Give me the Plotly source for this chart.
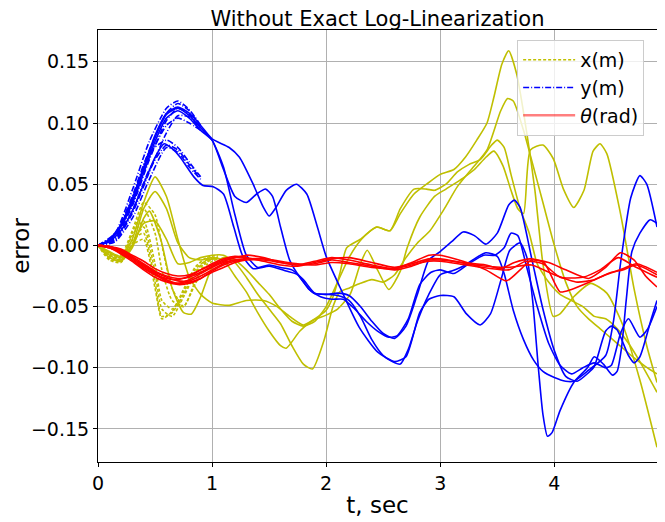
import plotly.graph_objects as go

# ---- data (t in sec, error) ----
x_run1 = [(0, 0), (0.1, -0.006), (0.2, -0.010), (0.3, 0.005), (0.4, 0.035), (0.5, 0.056), (0.6, 0.040),
          (0.7, 0.005), (0.8, -0.026), (0.9, -0.040), (1.0, -0.047), (1.15, -0.049), (1.3, -0.045),
          (1.45, -0.045), (1.57, -0.050), (1.68, -0.058), (1.8, -0.065), (1.9, -0.060), (2.0, -0.053),
          (2.06, -0.042), (2.12, -0.023), (2.18, -0.002), (2.3, 0.005), (2.44, 0.015), (2.56, 0.012),
          (2.65, 0.026), (2.77, 0.042), (2.88, 0.050), (3.0, 0.058), (3.12, 0.062), (3.22, 0.072),
          (3.32, 0.086), (3.41, 0.100), (3.47, 0.121), (3.54, 0.148), (3.6, 0.159), (3.67, 0.140),
          (3.76, 0.091), (3.83, 0.045), (3.9, -0.015), (3.99, -0.058), (4.05, -0.056), (4.17, -0.042),
          (4.32, -0.031), (4.46, -0.039), (4.6, -0.065), (4.75, -0.110), (4.9, -0.165)]
x_run2 = [(0, 0), (0.1, -0.008), (0.2, -0.012), (0.3, 0.000), (0.4, 0.030), (0.5, 0.044), (0.6, 0.030),
          (0.7, 0.002), (0.8, -0.010), (0.9, -0.012), (1.0, -0.010), (1.1, -0.012), (1.2, -0.025),
          (1.3, -0.038), (1.4, -0.055), (1.5, -0.070), (1.6, -0.082), (1.65, -0.084), (1.77, -0.070),
          (1.89, -0.061), (2.0, -0.057), (2.1, -0.052), (2.21, -0.040), (2.3, -0.015), (2.36, -0.004),
          (2.45, -0.020), (2.55, -0.036), (2.65, -0.021), (2.71, -0.002), (2.82, 0.023), (2.95, 0.040),
          (3.05, 0.046), (3.2, 0.055), (3.3, 0.062), (3.4, 0.072), (3.47, 0.077), (3.55, 0.065),
          (3.62, 0.045), (3.68, 0.030), (3.73, 0.026), (3.79, 0.078), (3.9, 0.082), (3.99, 0.071),
          (4.08, 0.046), (4.17, 0.031), (4.26, 0.045), (4.34, 0.077), (4.4, 0.083), (4.46, 0.075),
          (4.58, 0.026), (4.7, -0.036), (4.81, -0.082), (4.9, -0.112)]
x_run3 = [(0, 0), (0.1, -0.005), (0.2, -0.009), (0.3, 0.000), (0.4, 0.018), (0.5, 0.020), (0.6, 0.005),
          (0.7, -0.015), (0.8, -0.014), (0.9, -0.010), (1.0, -0.008), (1.1, -0.008), (1.2, -0.014),
          (1.3, -0.026), (1.4, -0.040), (1.5, -0.052), (1.6, -0.064), (1.7, -0.082), (1.8, -0.097),
          (1.88, -0.101), (1.98, -0.078), (2.06, -0.050), (2.12, -0.038), (2.2, -0.035), (2.3, -0.031),
          (2.4, -0.028), (2.5, -0.030), (2.6, -0.024), (2.7, -0.010), (2.8, 0.002), (2.91, 0.012),
          (3.03, 0.029), (3.15, 0.048), (3.29, 0.064), (3.41, 0.078), (3.53, 0.110), (3.59, 0.120),
          (3.64, 0.118), (3.73, 0.094), (3.8, 0.070), (3.9, 0.035), (4.0, 0.000), (4.1, -0.030),
          (4.2, -0.050), (4.3, -0.060), (4.4, -0.068), (4.5, -0.076), (4.6, -0.084), (4.7, -0.092),
          (4.8, -0.099), (4.9, -0.105)]
x_run4 = [(0, 0), (0.1, -0.010), (0.2, -0.013), (0.3, -0.002), (0.4, 0.022), (0.45, 0.028), (0.55, 0.005),
          (0.65, -0.035), (0.75, -0.055), (0.82, -0.056), (0.9, -0.042), (1.0, -0.018), (1.1, -0.010),
          (1.2, -0.012), (1.3, -0.020), (1.4, -0.030), (1.5, -0.040), (1.6, -0.052), (1.7, -0.062),
          (1.8, -0.066), (1.9, -0.062), (2.0, -0.050), (2.1, -0.030), (2.2, -0.010), (2.3, 0.004),
          (2.39, 0.012), (2.45, 0.015), (2.56, 0.012), (2.65, 0.030), (2.77, 0.046), (2.88, 0.046),
          (2.95, 0.045), (3.05, 0.050), (3.15, 0.060), (3.25, 0.066), (3.35, 0.070), (3.45, 0.082),
          (3.5, 0.086), (3.56, 0.080), (3.62, 0.058), (3.7, 0.030), (3.78, 0.010), (3.85, -0.015),
          (3.95, -0.030), (4.05, -0.040), (4.15, -0.045), (4.25, -0.050), (4.35, -0.058), (4.45, -0.060),
          (4.55, -0.068), (4.65, -0.080), (4.75, -0.095), (4.9, -0.120)]

y_run1 = [(0, 0), (0.1, 0.004), (0.2, 0.016), (0.3, 0.036), (0.4, 0.062), (0.5, 0.088), (0.6, 0.107),
          (0.7, 0.112), (0.8, 0.106), (0.9, 0.096), (1.0, 0.086), (1.1, 0.064), (1.2, 0.025), (1.3, -0.008),
          (1.4, -0.018), (1.5, -0.016), (1.6, -0.018), (1.7, -0.020), (1.8, -0.028), (1.9, -0.039),
          (2.0, -0.040), (2.1, -0.039), (2.2, -0.041), (2.3, -0.050), (2.4, -0.062), (2.5, -0.072),
          (2.6, -0.076), (2.7, -0.066), (2.8, -0.040), (2.9, -0.012), (3.0, -0.005), (3.1, 0.003),
          (3.2, 0.011), (3.3, 0.008), (3.4, 0.001), (3.5, 0.010), (3.6, 0.033), (3.65, 0.037), (3.7, 0.031),
          (3.8, -0.010), (3.9, -0.052), (4.0, -0.086), (4.1, -0.107), (4.2, -0.111), (4.3, -0.104),
          (4.35, -0.099), (4.45, -0.070), (4.5, -0.066), (4.55, -0.069), (4.65, -0.090), (4.7, -0.096),
          (4.75, -0.091), (4.85, -0.060), (4.9, -0.045)]
y_run2 = [(0, 0), (0.1, 0.005), (0.2, 0.017), (0.3, 0.038), (0.4, 0.064), (0.5, 0.090), (0.6, 0.108),
          (0.7, 0.113), (0.8, 0.108), (0.9, 0.098), (1.0, 0.087), (1.15, 0.080), (1.24, 0.072),
          (1.36, 0.050), (1.45, 0.031), (1.5, 0.024), (1.56, 0.031), (1.65, 0.045), (1.74, 0.050),
          (1.83, 0.042), (1.92, 0.016), (2.0, -0.009), (2.12, -0.034), (2.29, -0.067), (2.45, -0.087),
          (2.6, -0.095), (2.7, -0.091), (2.82, -0.055), (2.9, -0.044), (3.0, -0.041), (3.12, -0.042),
          (3.23, -0.056), (3.35, -0.065), (3.44, -0.056), (3.53, -0.029), (3.61, -0.004), (3.7, 0.002),
          (3.76, -0.010), (3.81, -0.045), (3.86, -0.100), (3.9, -0.138), (3.94, -0.156), (3.98, -0.153),
          (4.05, -0.135), (4.17, -0.112), (4.29, -0.100), (4.35, -0.091), (4.43, -0.097), (4.51, -0.106),
          (4.55, -0.103), (4.59, -0.083), (4.63, -0.045), (4.68, -0.005), (4.75, 0.010), (4.84, 0.021),
          (4.9, 0.018)]
y_run3 = [(0, 0), (0.1, 0.004), (0.2, 0.015), (0.3, 0.034), (0.4, 0.059), (0.5, 0.085), (0.6, 0.104),
          (0.7, 0.110), (0.8, 0.104), (0.9, 0.094), (1.0, 0.086), (1.1, 0.062), (1.2, 0.040), (1.3, 0.035),
          (1.39, 0.042), (1.47, 0.046), (1.53, 0.040), (1.6, 0.015), (1.68, -0.012), (1.77, -0.026),
          (1.89, -0.039), (2.0, -0.040), (2.1, -0.041), (2.2, -0.045), (2.3, -0.058), (2.4, -0.077),
          (2.5, -0.090), (2.58, -0.095), (2.65, -0.097), (2.72, -0.085), (2.8, -0.062), (2.9, -0.040),
          (3.0, -0.024), (3.1, -0.021), (3.2, -0.017), (3.3, -0.011), (3.4, -0.006), (3.5, -0.009),
          (3.56, -0.023), (3.64, -0.053), (3.73, -0.077), (3.82, -0.094), (3.9, -0.103), (4.0, -0.108),
          (4.1, -0.111), (4.17, -0.111), (4.3, -0.102), (4.45, -0.090), (4.52, -0.061), (4.58, -0.015),
          (4.67, 0.039), (4.75, 0.057), (4.81, 0.050), (4.9, 0.015)]
y_run4 = [(0, 0), (0.1, 0.003), (0.2, 0.012), (0.3, 0.028), (0.4, 0.050), (0.5, 0.072), (0.58, 0.083),
          (0.65, 0.079), (0.72, 0.072), (0.84, 0.056), (0.92, 0.049), (1.01, 0.048), (1.1, 0.042),
          (1.19, 0.015), (1.27, -0.009), (1.36, -0.019), (1.5, -0.017), (1.65, -0.021), (1.75, -0.024),
          (1.85, -0.036), (1.95, -0.042), (2.05, -0.044), (2.15, -0.044), (2.25, -0.052), (2.35, -0.062),
          (2.45, -0.070), (2.55, -0.075), (2.62, -0.074), (2.72, -0.060), (2.82, -0.032), (2.92, -0.022),
          (3.0, -0.020), (3.12, -0.023), (3.25, -0.015), (3.38, -0.008), (3.48, -0.008), (3.56, -0.002),
          (3.62, 0.010), (3.68, 0.008), (3.75, -0.015), (3.85, -0.050), (3.95, -0.080), (4.05, -0.098),
          (4.15, -0.105), (4.25, -0.100), (4.35, -0.096), (4.45, -0.100), (4.5, -0.098), (4.58, -0.072),
          (4.65, -0.060), (4.75, -0.075), (4.82, -0.068), (4.9, -0.050)]

th_run1 = [(0, 0), (0.1, -0.001), (0.2, -0.004), (0.3, -0.009), (0.4, -0.015), (0.5, -0.021), (0.6, -0.025),
           (0.7, -0.027), (0.8, -0.026), (0.9, -0.022), (1.0, -0.017), (1.1, -0.013), (1.2, -0.010),
           (1.3, -0.008), (1.45, -0.010), (1.6, -0.014), (1.75, -0.016), (1.9, -0.013), (2.05, -0.010),
           (2.2, -0.012), (2.4, -0.016), (2.6, -0.019), (2.75, -0.014), (2.9, -0.008), (3.0, -0.008),
           (3.2, -0.013), (3.4, -0.020), (3.58, -0.029), (3.7, -0.020), (3.8, -0.012), (3.95, -0.014),
           (4.1, -0.020), (4.3, -0.027), (4.45, -0.018), (4.58, -0.006), (4.7, -0.012), (4.8, -0.025),
           (4.9, -0.034)]
th_run2 = [(0, 0), (0.1, -0.001), (0.2, -0.005), (0.3, -0.010), (0.4, -0.017), (0.5, -0.023), (0.6, -0.028),
           (0.7, -0.031), (0.8, -0.030), (0.9, -0.027), (1.0, -0.022), (1.1, -0.018), (1.2, -0.014),
           (1.3, -0.012), (1.45, -0.012), (1.6, -0.014), (1.75, -0.016), (1.9, -0.015), (2.05, -0.012),
           (2.2, -0.014), (2.4, -0.017), (2.6, -0.020), (2.75, -0.017), (2.9, -0.012), (3.0, -0.012),
           (3.2, -0.014), (3.4, -0.016), (3.53, -0.019), (3.65, -0.014), (3.79, -0.011), (3.91, -0.014),
           (4.05, -0.038), (4.15, -0.036), (4.31, -0.030), (4.45, -0.024), (4.6, -0.019), (4.72, -0.015),
           (4.9, -0.022)]
th_run3 = [(0, 0), (0.1, -0.002), (0.2, -0.006), (0.3, -0.012), (0.4, -0.019), (0.5, -0.024), (0.6, -0.027),
           (0.7, -0.028), (0.8, -0.025), (0.9, -0.020), (1.0, -0.015), (1.1, -0.011), (1.2, -0.009),
           (1.3, -0.010), (1.45, -0.013), (1.6, -0.016), (1.75, -0.017), (1.9, -0.014), (2.05, -0.011),
           (2.2, -0.010), (2.4, -0.014), (2.6, -0.018), (2.75, -0.015), (2.9, -0.011), (3.0, -0.011),
           (3.3, -0.016), (3.6, -0.018), (3.8, -0.016), (4.0, -0.024), (4.2, -0.030), (4.35, -0.028),
           (4.5, -0.022), (4.6, -0.020), (4.72, -0.016), (4.9, -0.024)]
th_run4 = [(0, 0), (0.1, -0.001), (0.2, -0.004), (0.3, -0.010), (0.4, -0.016), (0.5, -0.022), (0.6, -0.026),
           (0.7, -0.029), (0.8, -0.029), (0.9, -0.025), (1.0, -0.020), (1.1, -0.015), (1.2, -0.012),
           (1.3, -0.011), (1.45, -0.011), (1.6, -0.013), (1.75, -0.015), (1.9, -0.016), (2.05, -0.014),
           (2.2, -0.015), (2.4, -0.018), (2.6, -0.019), (2.75, -0.016), (2.9, -0.013), (3.0, -0.013),
           (3.3, -0.017), (3.6, -0.020), (3.75, -0.013), (3.9, -0.015), (4.05, -0.026), (4.25, -0.026),
           (4.4, -0.020), (4.56, -0.010), (4.7, -0.017), (4.9, -0.026)]

# early runs that stop around one second (drawn dashed)
t_short_x = [0, 0.1, 0.2, 0.3, 0.4, 0.5, 0.56, 0.65, 0.75, 0.85, 0.95, 1.05]
x_short = [
    [0, -0.010, -0.012, 0.004, 0.010, -0.030, -0.058, -0.055, -0.040, -0.022, -0.012, -0.010],
    [0, -0.008, -0.010, 0.008, 0.020, -0.015, -0.045, -0.052, -0.038, -0.020, -0.012, -0.011],
    [0, -0.012, -0.014, 0.000, 0.005, -0.035, -0.060, -0.054, -0.036, -0.018, -0.010, -0.008],
    [0, -0.009, -0.011, 0.010, 0.030, 0.010, -0.020, -0.045, -0.050, -0.030, -0.014, -0.010],
    [0, -0.007, -0.008, 0.012, 0.035, 0.025, 0.000, -0.035, -0.050, -0.032, -0.016, -0.011],
    [0, -0.011, -0.013, 0.002, 0.015, -0.022, -0.052, -0.058, -0.042, -0.024, -0.013, -0.009],
]
t_short_y = [0, 0.15, 0.3, 0.45, 0.6, 0.7, 0.8, 0.9]
y_short = [
    [0, 0.008, 0.038, 0.078, 0.108, 0.116, 0.110, 0.097],
    [0, 0.006, 0.032, 0.070, 0.102, 0.112, 0.107, 0.096],
    [0, 0.010, 0.045, 0.085, 0.112, 0.118, 0.111, 0.098],
    [0, 0.004, 0.026, 0.060, 0.092, 0.106, 0.105, 0.095],
    [0, 0.007, 0.036, 0.072, 0.098, 0.104, 0.100, 0.094],
    [0, 0.005, 0.028, 0.062, 0.082, 0.078, 0.066, 0.055],
    [0, 0.009, 0.040, 0.076, 0.086, 0.080, 0.068, 0.056],
    [0, 0.003, 0.022, 0.054, 0.080, 0.076, 0.064, 0.054],
]
t_short_th = [0, 0.1, 0.2, 0.3, 0.4, 0.5, 0.6, 0.7, 0.8, 0.9, 1.0, 1.1, 1.2, 1.3]
th_short = [
    [0, -0.002, -0.007, -0.013, -0.020, -0.026, -0.030, -0.032, -0.031, -0.027, -0.021, -0.016, -0.013, -0.012],
    [0, -0.001, -0.003, -0.008, -0.013, -0.019, -0.023, -0.025, -0.024, -0.020, -0.016, -0.012, -0.010, -0.009],
    [0, -0.002, -0.006, -0.011, -0.018, -0.024, -0.029, -0.031, -0.028, -0.023, -0.018, -0.014, -0.012, -0.011],
]

YELLOW = "#bfbf00"
BLUE = "#0000ff"
RED = "#ff0000"
FONT = "DejaVu Sans"
X_DASH = "3px,2px"
Y_DASH = "6px,2px,1px,2px"

# the page body keeps an 8px margin, so the figure is drawn 8px smaller and margins shifted
PAGE_PAD = 8
W, H = 665 - PAGE_PAD, 522 - PAGE_PAD

fig = go.Figure()


def add_run(pts, color, dash="solid", t=None):
    if t is None:
        t = [p[0] for p in pts]
        v = [p[1] for p in pts]
    else:
        v = pts
    fig.add_trace(go.Scatter(
        x=t, y=v, mode="lines", showlegend=False, hoverinfo="skip",
        line=dict(color=color, width=1.6, dash=dash, shape="spline", smoothing=0.6),
    ))


for run in x_short:
    add_run(run, YELLOW, X_DASH, t_short_x)
for run in [x_run1, x_run2, x_run3, x_run4]:
    add_run(run, YELLOW)
for run in y_short:
    add_run(run, BLUE, Y_DASH, t_short_y)
for run in [y_run1, y_run2, y_run3, y_run4]:
    add_run(run, BLUE)
for run in th_short:
    add_run(run, RED, "solid", t_short_th)
for run in [th_run1, th_run2, th_run3, th_run4]:
    add_run(run, RED)

# legend entries
fig.add_trace(go.Scatter(x=[None], y=[None], mode="lines", name="x(m)",
                         line=dict(color=YELLOW, width=1.4, dash=X_DASH)))
fig.add_trace(go.Scatter(x=[None], y=[None], mode="lines", name="y(m)",
                         line=dict(color=BLUE, width=1.4, dash=Y_DASH)))
fig.add_trace(go.Scatter(x=[None], y=[None], mode="lines", name="<i>θ</i>(rad)",
                         line=dict(color="rgba(255,0,0,0.5)", width=2.5)))

fig.update_layout(
    width=W, height=H,
    margin=dict(l=98 - PAGE_PAD, r=8, t=30 - PAGE_PAD, b=60),
    paper_bgcolor="white", plot_bgcolor="white",
    font=dict(family=FONT, size=19, color="black"),
    title=dict(text="Without Exact Log-Linearization", x=0.5, xref="paper",
               y=1.0, yanchor="top", pad=dict(t=3), font=dict(size=21)),
    legend=dict(x=0.977, y=0.977, xanchor="right", yanchor="top", itemwidth=52,
                bgcolor="rgba(255,255,255,0.8)", bordercolor="#cccccc", borderwidth=1,
                font=dict(size=19)),
)
fig.update_xaxes(
    range=[0, 4.9], tickvals=[0, 1, 2, 3, 4], ticktext=["0", "1", "2", "3", "4"],
    showgrid=True, gridcolor="#b0b0b0", gridwidth=0.8, zeroline=False,
    showline=True, linecolor="black", linewidth=1, mirror=True,
    ticks="outside", ticklen=4, tickcolor="black", automargin=False,
    title=dict(text="t, sec", standoff=4),
)
fig.update_yaxes(
    range=[-0.177, 0.176], tickvals=[-0.15, -0.10, -0.05, 0, 0.05, 0.10, 0.15], tickformat=".2f",
    showgrid=True, gridcolor="#b0b0b0", gridwidth=0.8, zeroline=False,
    showline=True, linecolor="black", linewidth=1, mirror=True,
    ticks="outside", ticklen=4, tickcolor="black", automargin=False,
    title=dict(text="error", standoff=17),
)

fig.write_html("out.html")
